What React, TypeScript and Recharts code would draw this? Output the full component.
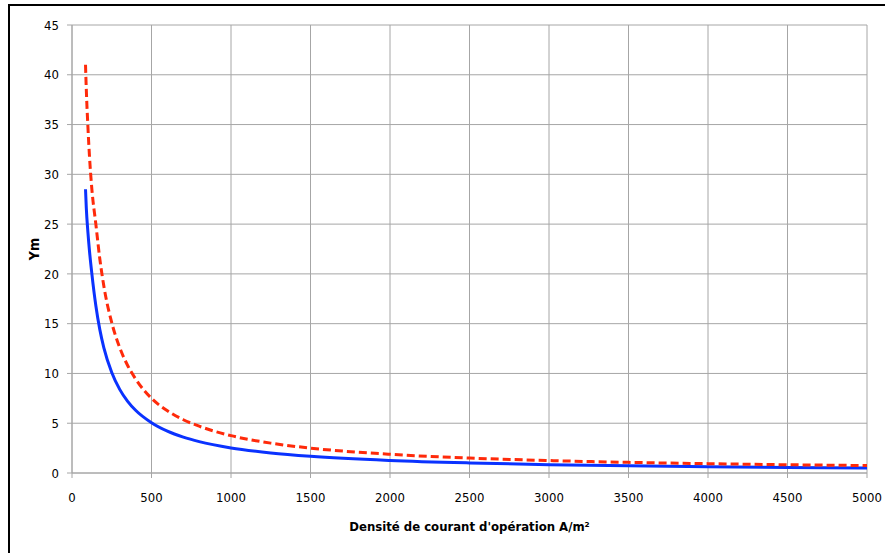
import React from 'react';
import { LineChart, Line, XAxis, YAxis, CartesianGrid } from 'recharts';

const currentDensity = [85, 90, 100, 110, 125, 150, 175, 200, 250, 300, 350, 400, 500, 600, 700, 800, 1000, 1250, 1500, 2000, 2500, 3000, 3500, 4000, 4500, 5000];
const ymBlue = [28.5, 26.6, 24.2, 22.3, 20.0, 16.8, 14.4, 12.6, 10.1, 8.4, 7.2, 6.3, 5.05, 4.2, 3.6, 3.15, 2.52, 2.02, 1.68, 1.26, 1.01, 0.84, 0.72, 0.63, 0.56, 0.5];
const ymRed = [41.0, 38.5, 34.8, 31.8, 28.5, 25.0, 21.5, 18.8, 15.1, 12.6, 10.8, 9.45, 7.5, 6.25, 5.35, 4.7, 3.75, 3.0, 2.5, 1.88, 1.5, 1.25, 1.07, 0.94, 0.83, 0.75];
const xTicks = [0, 500, 1000, 1500, 2000, 2500, 3000, 3500, 4000, 4500, 5000];
const yTicks = [0, 5, 10, 15, 20, 25, 30, 35, 40, 45];

const data = currentDensity.map((x, i) => ({ x, blue: ymBlue[i], red: ymRed[i] }));

const font = "'Liberation Sans Narrow', 'DejaVu Sans Condensed', 'Open Sans', sans-serif";

export default function App() {
  return (
    <div style={{ position: 'fixed', left: 0, top: 0, width: 885, height: 553, overflow: 'hidden', background: '#fff' }}>
      <div style={{ position: 'absolute', left: 8, top: 4, width: 900, height: 580, border: '2px solid #000', boxSizing: 'border-box' }} />
      <div style={{ position: 'absolute', left: 0, top: 0 }}>
        <LineChart width={885} height={553} data={data} margin={{ top: 25, right: 18, bottom: 20, left: 32 }}>
          <CartesianGrid stroke="#a6a6a6" strokeWidth={1} />
          <XAxis
            dataKey="x"
            type="number"
            domain={[0, 5000]}
            ticks={xTicks}
            height={60}
            stroke="#a6a6a6"
            tickSize={5}
            tick={{ fill: '#000', fontSize: 13, fontFamily: font, dy: 5 }}
            tickMargin={10}
            label={{ value: "Densité de courant d'opération A/m²", position: 'insideBottom', offset: 2, fill: '#000', fontSize: 13, fontWeight: 'bold', fontFamily: font }}
          />
          <YAxis
            type="number"
            domain={[0, 45]}
            ticks={yTicks}
            width={40}
            stroke="#a6a6a6"
            tickSize={5}
            tick={{ fill: '#000', fontSize: 13, fontFamily: font }}
            tickMargin={8}
            label={{ value: 'Ym', angle: -90, position: 'center', dx: -18, fill: '#000', fontSize: 14, fontWeight: 'bold', fontFamily: font }}
          />
          <Line type="monotone" dataKey="blue" stroke="#0a32ff" strokeWidth={3} dot={false} isAnimationActive={false} />
          <Line type="monotone" dataKey="red" stroke="#ff2a0a" strokeWidth={3} strokeDasharray="8 4" dot={false} isAnimationActive={false} />
        </LineChart>
      </div>
    </div>
  );
}
